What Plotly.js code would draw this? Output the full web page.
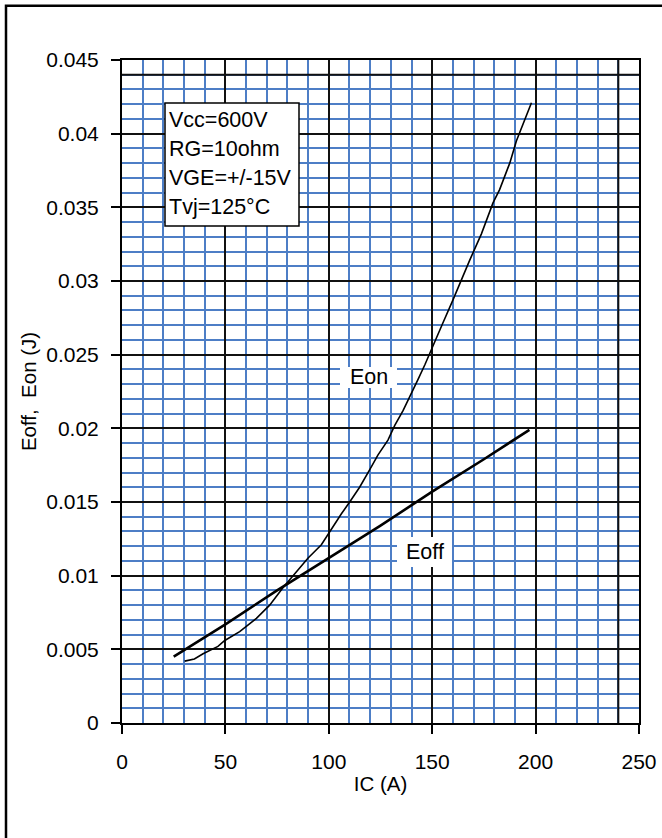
<!DOCTYPE html>
<html>
<head>
<meta charset="utf-8">
<script src="https://cdn.plot.ly/plotly-3.0.1.min.js"></script>
<style>
html,body{margin:0;padding:0;background:#fff;}
#chart{width:662px;height:838px;}
</style>
</head>
<body>
<div id="chart"></div>
<script>
// ---- data ----
var eonCurrent = [30.3, 35, 39.2, 46.4, 49.7, 56.9, 65, 71.4, 77.9, 80.3, 85, 90, 96.4, 100.4, 106.1, 110.1, 114.9, 119.8, 123.8, 128.6, 131.9, 135.9, 139.1, 143.1, 146.4, 149.6, 155, 160, 165, 168.1, 173.8, 179.4, 182.6, 187.5, 190.7, 193.9, 198];
var eonEnergy  = [0.0042, 0.00435, 0.0047, 0.0052, 0.0056, 0.0062, 0.0071, 0.0080, 0.0092, 0.0096, 0.0104, 0.0112, 0.0121, 0.0130, 0.0142, 0.0150, 0.0160, 0.0172, 0.0182, 0.0192, 0.0202, 0.0212, 0.0221, 0.0233, 0.0243, 0.0253, 0.0271, 0.0287, 0.0304, 0.0314, 0.0332, 0.0353, 0.0362, 0.0380, 0.0395, 0.0407, 0.0421];
var eoffCurrent = [25, 50, 75, 100, 125, 150, 175, 197];
var eoffEnergy  = [0.0045, 0.0067, 0.0090, 0.0112, 0.0134, 0.0157, 0.0179, 0.0199];

var xTickVals = [0, 50, 100, 150, 200, 250];
var xTickText = ['0', '50', '100', '150', '200', '250'];
var yTickVals = [0, 0.005, 0.01, 0.015, 0.02, 0.025, 0.03, 0.035, 0.04, 0.045];
var yTickText = ['0', '0.005', '0.01', '0.015', '0.02', '0.025', '0.03', '0.035', '0.04', '0.045'];

var conditionLines = ['Vcc=600V', 'RG=10ohm', 'VGE=+/-15V', 'Tvj=125°C'];
var curveLabels = ['Eon', 'Eoff'];
var xTitle = 'IC (A)';
var yTitle = 'Eoff,  Eon (J)';

// ---- styling ----
var FONT = 'Liberation Sans, Arial, Helvetica, sans-serif';
var BLUE = '#4d7ec6';
var BLACK = '#111111';

var traces = [
  {x: eoffCurrent, y: eoffEnergy, mode: 'lines', line: {color: '#000', width: 2.6}, hoverinfo: 'skip'},
  {x: eonCurrent, y: eonEnergy, mode: 'lines', line: {color: '#000', width: 1.6}, hoverinfo: 'skip'}
];

// pixel helpers for plot area (l=122, r=639, t=60, b=723)
function px2x(px){ return (px - 122) / 517 * 250; }
function py2y(py){ return (723 - py) / 663 * 0.045; }

var shapes = [
  {type:'line', xref:'x', yref:'y', x0:240, x1:240, y0:0, y1:0.045, line:{color:BLACK, width:2}, layer:'between'},
  {type:'line', xref:'x', yref:'y', x0:0, x1:250, y0:0.044, y1:0.044, line:{color:BLACK, width:2}, layer:'between'},
  {type:'rect', xref:'x', yref:'y', x0:px2x(165), x1:px2x(299), y0:py2y(226), y1:py2y(103),
   fillcolor:'#fff', line:{color:'#000', width:1.5}, layer:'above'},
  {type:'rect', xref:'x', yref:'y', x0:px2x(340), x1:px2x(397), y0:py2y(388), y1:py2y(367),
   fillcolor:'#fff', line:{width:0}, layer:'above'},
  {type:'rect', xref:'x', yref:'y', x0:px2x(397), x1:px2x(452), y0:py2y(567), y1:py2y(537),
   fillcolor:'#fff', line:{width:0}, layer:'above'},
  {type:'rect', xref:'paper', yref:'paper', x0:(6-122)/517, x1:(690-122)/517, y0:(723-870)/663, y1:(723-5.8)/663,
   line:{color:'#000', width:2.5}, fillcolor:'rgba(0,0,0,0)', layer:'above'}
];

var annotations = [];
var lineY = [120, 149.3, 177.7, 206.7];
conditionLines.forEach(function(t, i){
  annotations.push({xref:'x', yref:'y', x:px2x(167), y:py2y(lineY[i]), text:t, showarrow:false,
    xanchor:'left', yanchor:'middle', font:{family:FONT, size:21.5, color:'#000'}});
});
annotations.push({xref:'x', yref:'y', x:px2x(368.7), y:py2y(377), text:curveLabels[0], showarrow:false,
  xanchor:'center', yanchor:'middle', font:{family:FONT, size:21.5, color:'#000'}});
annotations.push({xref:'x', yref:'y', x:px2x(424.7), y:py2y(551.5), text:curveLabels[1], showarrow:false,
  xanchor:'center', yanchor:'middle', font:{family:FONT, size:21.5, color:'#000'}});

var layout = {
  width: 662, height: 838,
  margin: {l:122, r:23, t:60, b:115, pad:0},
  paper_bgcolor: '#fff', plot_bgcolor: '#fff',
  showlegend: false,
  font: {family: FONT, size: 21, color: '#000'},
  xaxis: {
    range: [0, 250], fixedrange: true,
    tickmode: 'array', tickvals: xTickVals, ticktext: xTickText,
    ticks: 'outside', ticklen: 9, tickwidth: 2, tickcolor: '#000',
    ticklabelstandoff: 10,
    showgrid: true, gridcolor: BLACK, gridwidth: 2,
    minor: {tickmode: 'linear', tick0: 0, dtick: 10, showgrid: true, gridcolor: BLUE, gridwidth: 2, ticks: ''},
    zeroline: false,
    showline: true, linecolor: '#000', linewidth: 2, mirror: true,
    tickfont: {family: FONT, size: 21},
    title: {text: xTitle, font: {family: FONT, size: 20.5}, standoff: 4}
  },
  yaxis: {
    range: [0, 0.045], fixedrange: true,
    tickmode: 'array', tickvals: yTickVals, ticktext: yTickText,
    ticks: 'outside', ticklen: 9, tickwidth: 2, tickcolor: '#000',
    ticklabelstandoff: 8,
    showgrid: true, gridcolor: BLACK, gridwidth: 2,
    minor: {tickmode: 'linear', tick0: 0, dtick: 0.001, showgrid: true, gridcolor: BLUE, gridwidth: 2, ticks: ''},
    zeroline: false,
    showline: true, linecolor: '#000', linewidth: 2, mirror: true,
    tickfont: {family: FONT, size: 21},
    title: {text: yTitle, font: {family: FONT, size: 20.5}, standoff: 4}
  },
  shapes: shapes,
  annotations: annotations
};

Plotly.newPlot('chart', traces, layout, {staticPlot: true, displayModeBar: false});
</script>
</body>
</html>
